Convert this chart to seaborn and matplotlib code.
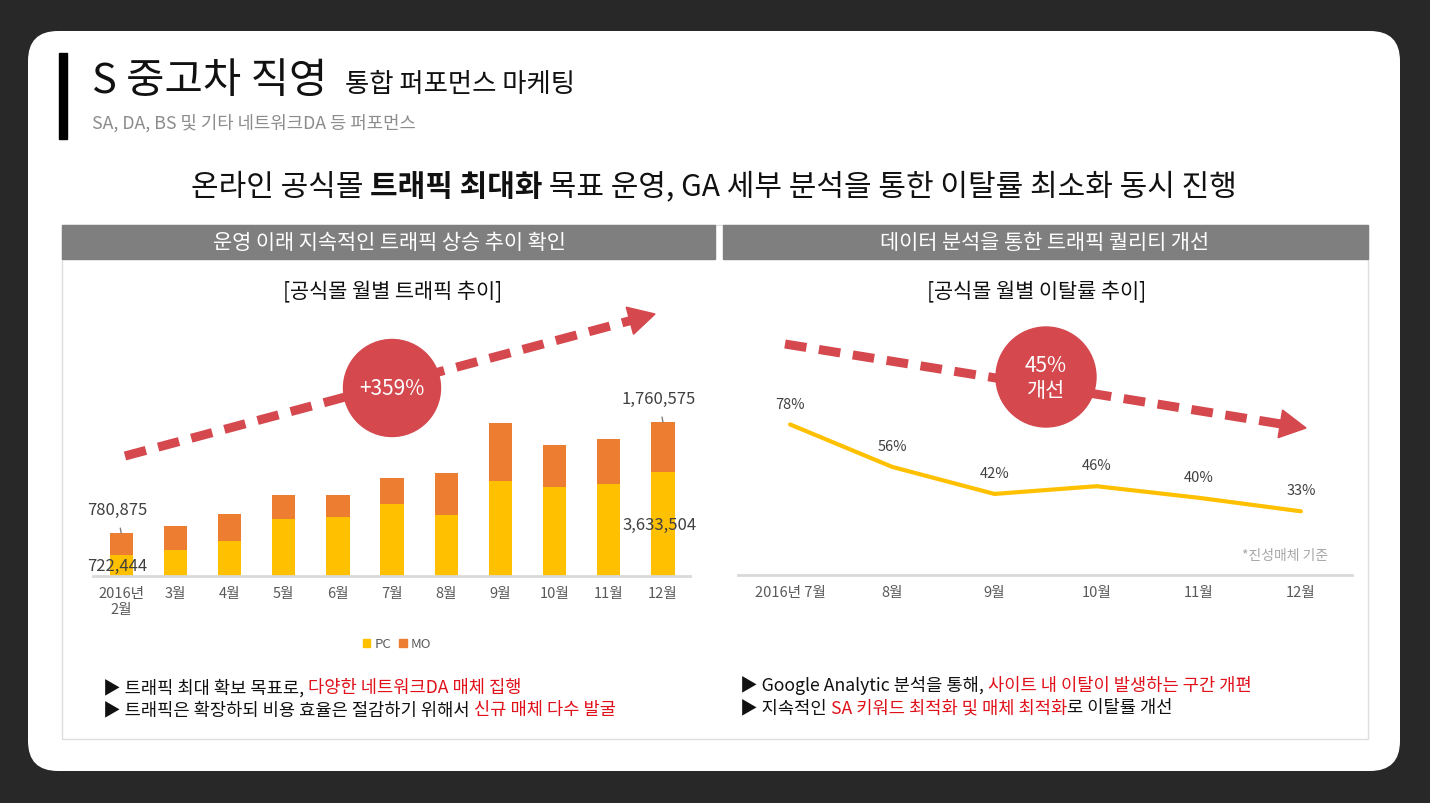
import math
import numpy as np
import pandas as pd
import seaborn as sns
from matplotlib import pyplot as plt
from matplotlib.patches import Circle, FancyBboxPatch, Patch, Polygon, Rectangle

# monthly traffic (PC / MO) and bounce rate
traffic_months = ["2016년\n2월", "3월", "4월", "5월", "6월", "7월", "8월", "9월", "10월", "11월", "12월"]
pc_visits = [722444, 900000, 1240000, 1997000, 2057000, 2512000, 2137000, 3343000, 3108000, 3224000, 3633504]
mo_visits = [780875, 841000, 932000, 855000, 771000, 911000, 1461000, 2032000, 1482000, 1591000, 1760575]

bounce_months = ["2016년 7월", "8월", "9월", "10월", "11월", "12월"]
bounce_rate = [78, 56, 42, 46, 40, 33]

W, H = 1430, 804
PC_COLOR = "#FFC000"
MO_COLOR = "#ED7D31"
RED = "#D4484E"
TEXT_RED = "#E0111B"
GRAY_TXT = "#595959"

sns.set_style("white")
plt.rcParams["font.family"] = ["Noto Sans CJK KR", "DejaVu Sans"]

fig = plt.figure(figsize=(W / 100, H / 100), dpi=100)
fig.patch.set_facecolor("#282828")

# background axes in pixel coordinates
bg = fig.add_axes([0, 0, 1, 1], zorder=0)
bg.set_xlim(0, W)
bg.set_ylim(H, 0)
bg.axis("off")


def text_width(s, size, weight="normal"):
    """Width of a text run in pixels (keeps spaces at the ends)."""
    r = fig.canvas.get_renderer()
    t1 = bg.text(0, 0, "|" + s + "|", fontsize=size, fontweight=weight)
    t2 = bg.text(0, 0, "||", fontsize=size, fontweight=weight)
    w = t1.get_window_extent(r).width - t2.get_window_extent(r).width
    t1.remove()
    t2.remove()
    return w


def draw_runs(x, y, runs, size, ha="left"):
    widths = [text_width(s, size, wt) for s, c, wt in runs]
    if ha == "center":
        x -= sum(widths) / 2
    for (s, c, wt), w in zip(runs, widths):
        bg.text(x, y, s, fontsize=size, color=c, fontweight=wt, ha="left", va="center")
        x += w


def dashed_arrow(x0, y0, x1, y1):
    L = math.hypot(x1 - x0, y1 - y0)
    ux, uy = (x1 - x0) / L, (y1 - y0) / L
    head_len, head_w = 26, 28
    bx, by = x1 - ux * head_len, y1 - uy * head_len
    bg.plot([x0, bx], [y0, by], color=RED, lw=6.5, linestyle=(0, (2.4, 1.4)),
            dash_capstyle="butt", zorder=2)
    px, py = -uy, ux
    bg.add_patch(Polygon([(x1, y1), (bx + px * head_w / 2, by + py * head_w / 2),
                          (bx - px * head_w / 2, by - py * head_w / 2)], color=RED, zorder=2))


# white card
bg.add_patch(FancyBboxPatch((28, 32), 1372, 740, boxstyle="round,pad=0,rounding_size=30",
                            facecolor="white", edgecolor="none"))
bg.add_patch(Rectangle((59, 54), 8, 86, color="black"))

# titles
bg.text(92, 81, "S 중고차 직영", fontsize=30, color="#111111", va="center")
bg.text(345, 84, "통합 퍼포먼스 마케팅", fontsize=19, color="#111111", va="center")
bg.text(92, 123, "SA, DA, BS 및 기타 네트워크DA 등 퍼포먼스", fontsize=12.8, color="#8c8c8c", va="center")

draw_runs(714, 187, [("온라인 공식몰 ", "#111111", "normal"),
                     ("트래픽 최대화", "#111111", "bold"),
                     (" 목표 운영, GA 세부 분석을 통한 이탈률 최소화 동시 진행", "#111111", "normal")],
          21.6, ha="center")

# panels
bg.add_patch(Rectangle((62, 226), 1306, 514, fill=False, edgecolor="#dedede", lw=1))
bg.add_patch(Rectangle((62, 226), 653, 34, color="#7f7f7f"))
bg.add_patch(Rectangle((723, 226), 645, 34, color="#7f7f7f"))
bg.text(389, 243, "운영 이래 지속적인 트래픽 상승 추이 확인", fontsize=15, color="white",
        ha="center", va="center", fontweight="light")
bg.text(1045, 243, "데이터 분석을 통한 트래픽 퀄리티 개선", fontsize=15, color="white",
        ha="center", va="center", fontweight="light")
bg.text(393, 292, "[공식몰 월별 트래픽 추이]", fontsize=15, color="#111111", ha="center", va="center")
bg.text(1037, 292, "[공식몰 월별 이탈률 추이]", fontsize=15, color="#111111", ha="center", va="center")

# trend arrows and badges
dashed_arrow(125, 457, 655, 315)
dashed_arrow(785, 345, 1306, 429)
bg.add_patch(Circle((392, 389), 48.5, color=RED, zorder=3))
bg.text(392, 389, "+359%", fontsize=15, color="white", ha="center", va="center", zorder=4,
        fontweight="light")
bg.add_patch(Circle((1046, 378), 50, color=RED, zorder=3))
bg.text(1046, 366, "45%", fontsize=15, color="white", ha="center", va="center", zorder=4,
        fontweight="light")
bg.text(1046, 391, "개선", fontsize=15, color="white", ha="center", va="center", zorder=4,
        fontweight="light")

# bullets
draw_runs(103, 688, [("▶ 트래픽 최대 확보 목표로, ", "#111111", "normal"),
                     ("다양한 네트워크DA 매체 집행", TEXT_RED, "normal")], 12.7)
draw_runs(103, 710, [("▶ 트래픽은 확장하되 비용 효율은 절감하기 위해서 ", "#111111", "normal"),
                     ("신규 매체 다수 발굴", TEXT_RED, "normal")], 12.7)
draw_runs(740, 686, [("▶ Google Analytic 분석을 통해, ", "#111111", "normal"),
                     ("사이트 내 이탈이 발생하는 구간 개편", TEXT_RED, "normal")], 12.7)
draw_runs(740, 708, [("▶ 지속적인 ", "#111111", "normal"),
                     ("SA 키워드 최적화 및 매체 최적화", TEXT_RED, "normal"),
                     ("로 이탈률 개선", "#111111", "normal")], 12.7)

# ---- left chart: stacked bars ----
ax1 = fig.add_axes([93 / W, 1 - 577 / H, (690 - 93) / W, (577 - 300) / H], zorder=1)
ax1.set_facecolor("none")
total_visits = [p + m for p, m in zip(pc_visits, mo_visits)]
sns.barplot(x=traffic_months, y=total_visits, color=MO_COLOR, saturation=1, width=0.43,
            linewidth=0, ax=ax1)
sns.barplot(x=traffic_months, y=pc_visits, color=PC_COLOR, saturation=1, width=0.43,
            linewidth=0, ax=ax1)
ax1.set_xlim(-0.52, 10.5)
ax1.set_ylim(0, 277 * 35040)
ax1.set_yticks([])
ax1.set_xlabel("")
ax1.set_ylabel("")
for s in ["top", "left", "right"]:
    ax1.spines[s].set_visible(False)
ax1.spines["bottom"].set_color("#d9d9d9")
ax1.spines["bottom"].set_linewidth(2)
ax1.tick_params(axis="x", length=0, pad=7, labelsize=10.5, labelcolor=GRAY_TXT)

for i in [0, len(traffic_months) - 1]:
    ax1.annotate(f"{mo_visits[i]:,}", xy=(i, total_visits[i]), xytext=(-3, 17),
                 textcoords="offset points", ha="center", va="center", fontsize=12,
                 color="#404040",
                 arrowprops=dict(arrowstyle="-", color="#7f7f7f", lw=1, shrinkA=5, shrinkB=0))
    ax1.text(i - 0.07, pc_visits[i] / 2, f"{pc_visits[i]:,}", ha="center", va="center",
             fontsize=12, color="#404040")

fig.legend(handles=[Patch(color=PC_COLOR), Patch(color=MO_COLOR)], labels=["PC", "MO"],
           loc="center", bbox_to_anchor=(397 / W, 1 - 645 / H), ncol=2, frameon=False,
           handlelength=0.6, handleheight=0.6, handletextpad=0.3, columnspacing=0.6,
           fontsize=9.5, labelcolor=GRAY_TXT)

# ---- right chart: bounce rate line ----
ax2 = fig.add_axes([738 / W, 1 - 576 / H, (1352 - 738) / W, (576 - 300) / H], zorder=1)
ax2.set_facecolor("none")
xs = np.arange(len(bounce_months))
sns.lineplot(x=xs, y=bounce_rate, color=PC_COLOR, linewidth=3, ax=ax2)
ax2.set_xlim(-0.51, 5.5)
ax2.set_ylim(0, 276 / 1.93)
ax2.set_yticks([])
ax2.set_xticks(xs)
ax2.set_xticklabels(bounce_months)
for s in ["top", "left", "right"]:
    ax2.spines[s].set_visible(False)
ax2.spines["bottom"].set_color("#d9d9d9")
ax2.spines["bottom"].set_linewidth(2)
ax2.tick_params(axis="x", length=0, pad=7, labelsize=10.5, labelcolor=GRAY_TXT)
for x, v in zip(xs, bounce_rate):
    ax2.annotate(f"{v}%", xy=(x, v), xytext=(0, 15), textcoords="offset points",
                 ha="center", va="center", fontsize=10.5, color="#404040")

bg.text(1328, 556, "*진성매체 기준", fontsize=10, color="#a6a6a6", ha="right", va="center")

fig.savefig("out.png", dpi=100, facecolor=fig.get_facecolor())
